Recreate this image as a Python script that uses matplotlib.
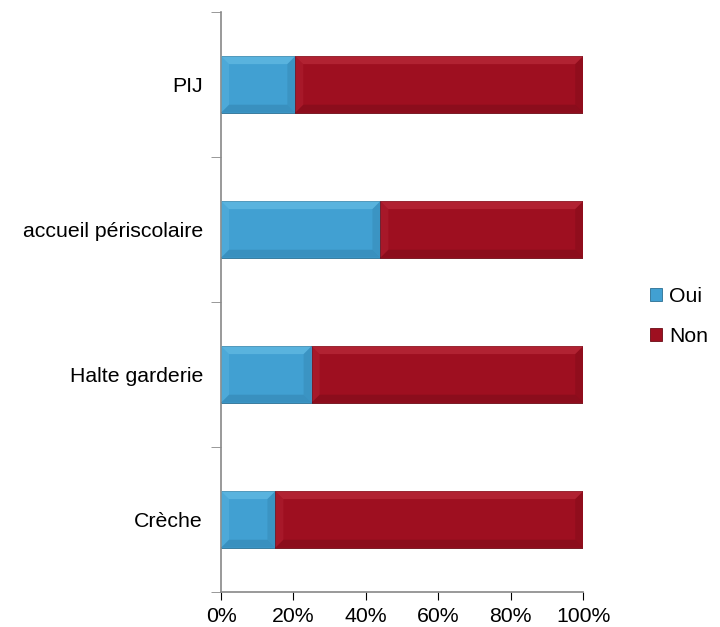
import matplotlib
matplotlib.use("Agg")
import matplotlib.pyplot as plt
from matplotlib.ticker import FuncFormatter
from matplotlib.patches import Polygon

plt.rcParams['font.family'] = ['Liberation Sans', 'DejaVu Sans']

categories = ["Crèche", "Halte garderie", "accueil périscolaire", "PIJ"]
oui = [15, 25, 44, 20.5]
non = [85, 75, 56, 79.5]
series_names = ["Oui", "Non"]
colors = ["#41a0d2", "#9e0f20"]
edge_colors = ["#2a6f93", "#6a0a15"]
light_colors = ["#7fd0f2", "#d0404f"]
dark_colors = ["#2e7aa3", "#700a16"]

fig = plt.figure(figsize=(7.2, 6.27), dpi=100)
ax = fig.add_axes([0.307, 0.056, 0.503, 0.925])

ypos = list(range(len(categories)))
h = 0.39
b1 = ax.barh(ypos, oui, height=h, color=colors[0], edgecolor=edge_colors[0], linewidth=0.6, label=series_names[0])
b2 = ax.barh(ypos, non, left=oui, height=h, color=colors[1], edgecolor=edge_colors[1], linewidth=0.6, label=series_names[1])

# subtle bevel effect
bx, by = 2.2, 0.055
for bars, lc, dc in [(b1, light_colors[0], dark_colors[0]), (b2, light_colors[1], dark_colors[1])]:
    for r in bars:
        x0, y0 = r.get_x(), r.get_y()
        w, hh = r.get_width(), r.get_height()
        x1, y1 = x0 + w, y0 + hh
        polys = [
            ([(x0, y1), (x1, y1), (x1 - bx, y1 - by), (x0 + bx, y1 - by)], lc, 0.4),
            ([(x0, y0), (x1, y0), (x1 - bx, y0 + by), (x0 + bx, y0 + by)], dc, 0.4),
            ([(x0, y0), (x0, y1), (x0 + bx, y1 - by), (x0 + bx, y0 + by)], lc, 0.2),
            ([(x1, y0), (x1, y1), (x1 - bx, y1 - by), (x1 - bx, y0 + by)], dc, 0.3),
        ]
        for pts, c, a in polys:
            ax.add_patch(Polygon(pts, closed=True, facecolor=c, edgecolor='none', alpha=a, zorder=3))

ax.set_xlim(0, 100)
ax.set_ylim(-0.5, len(categories) - 0.5)
ax.set_xticks([0, 20, 40, 60, 80, 100])
ax.xaxis.set_major_formatter(FuncFormatter(lambda v, p: f"{int(v)}%"))
ax.set_yticks(ypos)
ax.set_yticklabels(categories)
ax.set_yticks([y - 0.5 for y in range(len(categories) + 1)], minor=True)
ax.tick_params(axis='y', which='major', length=0, pad=13)
ax.tick_params(axis='y', which='minor', length=7, color='#888888', direction='out')
ax.tick_params(axis='x', length=6, color='#888888', direction='out', pad=5)
ax.tick_params(labelsize=15.3, colors='black')

for s in ['top', 'right']:
    ax.spines[s].set_visible(False)
for s in ['left', 'bottom']:
    ax.spines[s].set_color('#888888')
    ax.spines[s].set_linewidth(1.2)

leg = fig.legend(loc='upper left', bbox_to_anchor=(0.891, 0.556), frameon=False,
                 fontsize=15.3, handlelength=0.55, handleheight=0.55, handletextpad=0.35,
                 labelspacing=1.0, borderaxespad=0)

fig.savefig("out.png", dpi=100)
